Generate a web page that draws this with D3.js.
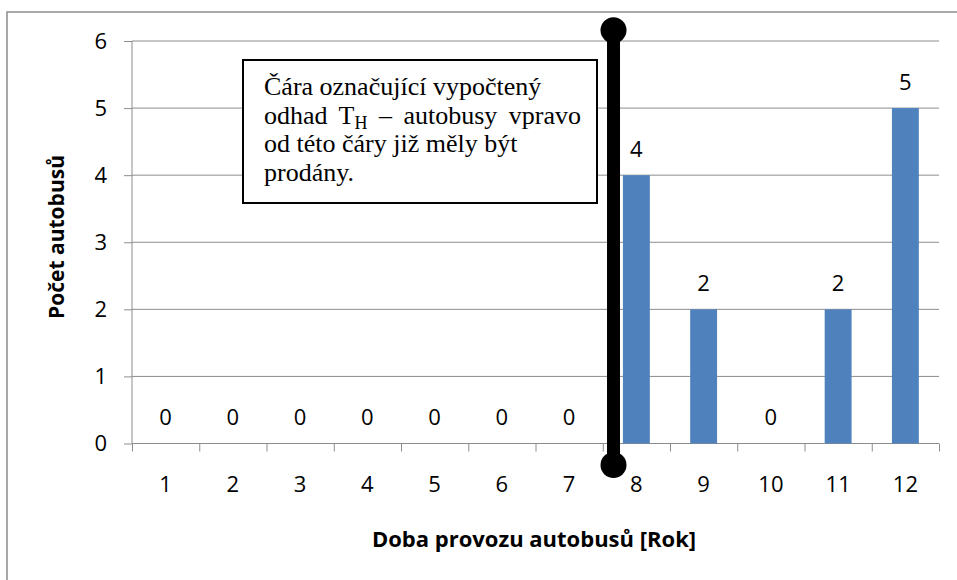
<!DOCTYPE html>
<html>
<head>
<meta charset="utf-8">
<script src="https://cdn.jsdelivr.net/npm/d3@7"></script>
<style>
  body { margin: 0; background: #fff; }
  text { font-family: "Open Sans", sans-serif; }
</style>
</head>
<body>
<svg id="chart" width="957" height="580"></svg>
<script>
// --- data ---
const years = ["1", "2", "3", "4", "5", "6", "7", "8", "9", "10", "11", "12"];
const busCounts = [0, 0, 0, 0, 0, 0, 0, 4, 2, 0, 2, 5];
const yTicks = [0, 1, 2, 3, 4, 5, 6];

// estimate T_H marker (category position, y extent in data units)
const markerPos = 7.66;
const markerRange = [-0.32, 6.16];
const noteLines = [
  ["Čára označující vypočtený"],
  ["odhad T", "H", " – autobusy vpravo"],
  ["od této čáry již měly být"],
  ["prodány."]
];

const svg = d3.select("#chart");
const margin = { top: 41, right: 18, bottom: 136.5, left: 132 };
const W = 957, H = 580;
const innerW = W - margin.left - margin.right;
const innerH = H - margin.top - margin.bottom;

// outer frame
svg.append("rect")
  .attr("x", 7).attr("y", 12)
  .attr("width", 960).attr("height", 580)
  .attr("fill", "none")
  .attr("stroke", "#8c8c8c")
  .attr("stroke-width", 1.5);

const g = svg.append("g").attr("transform", `translate(${margin.left},${margin.top})`);

const x = d3.scaleBand().domain(years).range([0, innerW]).paddingInner(0.6).paddingOuter(0.3);
const xPos = d3.scaleLinear().domain([0.5, years.length + 0.5]).range([0, innerW]);
const y = d3.scaleLinear().domain([0, 6]).range([innerH, 0]);

// gridlines
g.append("g")
  .selectAll("line")
  .data(yTicks.filter(d => d > 0))
  .join("line")
  .attr("x1", 0).attr("x2", innerW)
  .attr("y1", d => y(d)).attr("y2", d => y(d))
  .attr("stroke", "#8c8c8c").attr("stroke-width", 1);

// y axis
const yAxis = g.append("g")
  .call(d3.axisLeft(y).tickValues(yTicks).tickFormat(d3.format("d")).tickSize(8).tickPadding(17));
yAxis.select(".domain").attr("stroke", "#8c8c8c").attr("d", `M0,${innerH}V0`);
yAxis.selectAll(".tick line").attr("stroke", "#8c8c8c");
yAxis.selectAll("text").style("font-size", "22px").attr("fill", "#000");

// x axis boundaries
const xAxis = g.append("g")
  .attr("transform", `translate(0,${innerH})`)
  .call(d3.axisBottom(xPos).tickValues(d3.range(0.5, years.length + 1, 1)).tickSize(8).tickFormat(""));
xAxis.select(".domain").attr("stroke", "#8c8c8c").attr("d", `M0,0H${innerW}`);
xAxis.selectAll(".tick line").attr("stroke", "#8c8c8c");

// x category labels
const xLab = g.append("g")
  .attr("transform", `translate(0,${innerH})`)
  .call(d3.axisBottom(x).tickSize(0).tickPadding(33));
xLab.select(".domain").remove();
xLab.selectAll("text").style("font-size", "22px").attr("fill", "#000");

// bars
g.selectAll(".bar")
  .data(busCounts)
  .join("rect")
  .attr("class", "bar")
  .attr("x", (d, i) => x(years[i]))
  .attr("y", d => y(d))
  .attr("width", x.bandwidth())
  .attr("height", d => innerH - y(d))
  .attr("fill", "#4f81bd");

// value labels
g.selectAll(".val")
  .data(busCounts)
  .join("text")
  .attr("class", "val")
  .attr("x", (d, i) => x(years[i]) + x.bandwidth() / 2)
  .attr("y", d => y(d) - 18.5)
  .attr("text-anchor", "middle")
  .style("font-size", "22px")
  .text(d => d);

// T_H marker line
const mx = xPos(markerPos);
g.append("line")
  .attr("x1", mx).attr("x2", mx)
  .attr("y1", y(markerRange[0])).attr("y2", y(markerRange[1]))
  .attr("stroke", "#000").attr("stroke-width", 13);
g.selectAll(".end")
  .data(markerRange)
  .join("circle")
  .attr("class", "end")
  .attr("cx", mx).attr("cy", d => y(d))
  .attr("r", 13).attr("fill", "#000");

// note box
const box = svg.append("g").attr("transform", "translate(243,60)");
box.append("rect")
  .attr("width", 354).attr("height", 143)
  .attr("fill", "#fff").attr("stroke", "#000").attr("stroke-width", 2);
const note = box.append("text")
  .attr("x", 21)
  .style("font-family", "'Liberation Serif', 'Times New Roman', serif")
  .style("font-size", "26px");
noteLines.forEach((parts, i) => {
  const t = note.append("tspan").attr("x", 21).attr("y", 35 + i * 28.5);
  t.text(parts[0]);
  if (parts.length > 1) {
    t.style("word-spacing", "5px");
    t.append("tspan").attr("dy", 5).style("font-size", "18px").text(parts[1]);
    t.append("tspan").attr("dy", -5).text(parts[2]);
  }
});

// axis titles
svg.append("text")
  .attr("transform", "translate(64,237) rotate(-90)")
  .attr("text-anchor", "middle")
  .style("font-size", "21px").style("font-weight", "bold")
  .text("Počet autobusů");

svg.append("text")
  .attr("x", 534).attr("y", 547)
  .attr("text-anchor", "middle")
  .style("font-size", "22px").style("font-weight", "bold")
  .text("Doba provozu autobusů [Rok]");
</script>
</body>
</html>
